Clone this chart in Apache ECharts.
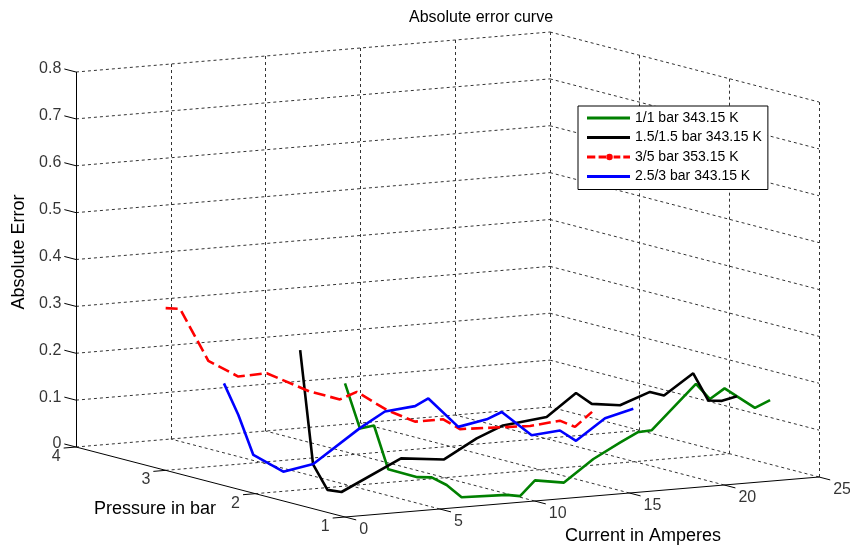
<!DOCTYPE html>
<html>
<head>
<meta charset="utf-8">
<script src="https://cdn.jsdelivr.net/npm/echarts@6/dist/echarts.min.js"></script>
<style>
html, body { margin: 0; padding: 0; background: #fff; }
#chart { width: 850px; height: 546px; }
</style>
</head>
<body>
<div id="chart"></div>
<script>
// series names and the pressure each curve sits at
var seriesNames = ['1/1 bar 343.15 K', '1.5/1.5 bar 343.15 K', '3/5 bar 353.15 K', '2.5/3 bar 343.15 K'];
var seriesPressure = [1, 1.5, 3, 2.5];

// 1/1 bar
var current11 = [0, 0.79, 1.53, 2.28, 3.82, 4.57, 5.36, 6.15, 8.53, 9.23, 10.02, 11.55, 13.1, 14.5, 15.43, 16.18, 18.51, 19.25, 20.02, 21.62, 22.42];
var error11 = [0.285, 0.186, 0.190, 0.094, 0.072, 0.069, 0.050, 0.021, 0.018, 0.013, 0.044, 0.034, 0.079, 0.109, 0.128, 0.130, 0.221, 0.186, 0.206, 0.159, 0.173];
// 1.5/1.5 bar
var current15 = [0, 0.68, 1.44, 2.18, 5.32, 7.59, 9.31, 10.7, 13.0, 14.55, 15.38, 16.87, 18.45, 19.19, 20.73, 21.53, 22.25, 23.04];
var error15 = [0.331, 0.085, 0.028, 0.021, 0.082, 0.072, 0.111, 0.134, 0.144, 0.190, 0.164, 0.156, 0.179, 0.169, 0.211, 0.150, 0.147, 0.154];
// 3/5 bar
var current35 = [0, 0.76, 2.25, 3.83, 5.33, 7.61, 9.19, 10.08, 11.66, 13.15, 14.64, 15.52, 19.22, 20.79, 21.59, 22.49];
var error35 = [0.346, 0.342, 0.226, 0.187, 0.189, 0.142, 0.120, 0.133, 0.089, 0.059, 0.059, 0.035, 0.029, 0.035, 0.019, 0.048];
// 2.5/3 bar
var current253 = [0.71, 1.47, 2.26, 3.84, 5.42, 7.88, 9.2, 10.79, 11.49, 13.07, 14.57, 15.36, 16.94, 18.43, 19.28, 20.81, 22.3];
var error253 = [0.208, 0.138, 0.050, 0.009, 0.020, 0.088, 0.119, 0.125, 0.139, 0.073, 0.084, 0.097, 0.042, 0.047, 0.022, 0.065, 0.080];

// ticks
var currentTicks = [0, 5, 10, 15, 20, 25];
var pressureTicks = [1, 2, 3, 4];
var errorTicks = [0, 0.1, 0.2, 0.3, 0.4, 0.5, 0.6, 0.7, 0.8];
var errorTickLabels = ['0', '0.1', '0.2', '0.3', '0.4', '0.5', '0.6', '0.7', '0.8'];

var FONT = 'Liberation Sans, Arial, Helvetica, sans-serif';

// orthographic view of the 3d box onto the page (current, pressure, error)
var view = { ox: 345, oy: 517, cx: 18.96, cy: -1.6, px: -89.67, py: -23.33, zy: -468.75 };
function proj(c, p, z) {
	return [view.ox + c * view.cx + (p - 1) * view.px,
		view.oy + c * view.cy + (p - 1) * view.py + z * view.zy];
}
var cMax = 25, pMin = 1, pMax = 4, zMax = 0.8;

// dotted grid on walls and floor
var gridSegs = [];
errorTicks.forEach(function(z) {
	if (z > 0) {
		gridSegs.push({ coords: [proj(0, pMax, z), proj(cMax, pMax, z)] });
		gridSegs.push({ coords: [proj(cMax, pMax, z), proj(cMax, pMin, z)] });
	}
});
currentTicks.forEach(function(c) {
	if (c > 0) {
		gridSegs.push({ coords: [proj(c, pMax, 0), proj(c, pMax, zMax)] });
		gridSegs.push({ coords: [proj(c, pMin, 0), proj(c, pMax, 0)] });
	}
});
pressureTicks.forEach(function(p) {
	if (p < pMax) gridSegs.push({ coords: [proj(cMax, p, 0), proj(cMax, p, zMax)] });
	if (p > pMin) gridSegs.push({ coords: [proj(0, p, 0), proj(cMax, p, 0)] });
});

// axis lines and ticks
var axisSegs = [
	{ coords: [proj(0, pMax, 0), proj(0, pMax, zMax)] },
	{ coords: [proj(0, pMax, 0), proj(0, pMin, 0)] },
	{ coords: [proj(0, pMin, 0), proj(cMax, pMin, 0)] }
];
var zLabels = [], pLabels = [], cLabels = [];
errorTicks.forEach(function(z, i) {
	var e = proj(0, pMax + 0.13, z);
	axisSegs.push({ coords: [proj(0, pMax, z), e] });
	zLabels.push([e[0] - 3, e[1], errorTickLabels[i]]);
});
pressureTicks.forEach(function(p) {
	var e = proj(-0.65, p, 0);
	axisSegs.push({ coords: [proj(0, p, 0), e] });
	pLabels.push([e[0] - 7.5, e[1] + 8.5, String(p)]);
});
currentTicks.forEach(function(c) {
	var e = proj(c, pMin - 0.125, 0);
	axisSegs.push({ coords: [proj(c, pMin, 0), e] });
	cLabels.push([e[0] + 3, e[1] + 9.5, String(c)]);
});

function curve(cur, err, p) {
	return cur.map(function(c, i) { return proj(c, p, err[i]); });
}

function labelSeries(data, align) {
	return {
		type: 'scatter', silent: true, symbolSize: 0, data: data, z: 5,
		label: {
			show: true, position: [0, 0], align: align, verticalAlign: 'middle',
			color: '#000', fontSize: 16, fontFamily: FONT,
			formatter: function(p) { return p.value[2]; }
		}
	};
}

// legend samples: plain thick line, and dashed line with a dot
var solidIcon = 'path://M0,0h43v2.8h-43z';
var dashDotIcon = 'path://M0,5.6h8.3v2.8h-8.3z M11.6,5.6h8v2.8h-8z M26.6,5.6h6.7v2.8h-6.7z M36.3,5.6h6.7v2.8h-6.7z M19.2,7a3.3,3.3 0 1,0 6.6,0a3.3,3.3 0 1,0 -6.6,0z';

var myChart = echarts.init(document.getElementById('chart'));
var option = {
	animation: false,
	grid: { left: 0, right: 0, top: 0, bottom: 0 },
	xAxis: { type: 'value', min: 0, max: 850, show: false },
	yAxis: { type: 'value', min: 0, max: 546, inverse: true, show: false },
	legend: {
		data: [
			{ name: seriesNames[0], icon: solidIcon },
			{ name: seriesNames[1], icon: solidIcon },
			{ name: seriesNames[2], icon: dashDotIcon },
			{ name: seriesNames[3], icon: solidIcon }
		],
		orient: 'vertical',
		left: 578, top: 106,
		padding: [5, 6, 6, 9],
		itemWidth: 43, itemHeight: 14, itemGap: 5.5,
		backgroundColor: '#fff', borderColor: '#000', borderWidth: 1,
		textStyle: { fontSize: 14, fontFamily: FONT, color: '#000' }
	},
	graphic: [
		{ type: 'text', x: 481, y: 18, style: { text: 'Absolute error curve', font: '16px ' + FONT, fill: '#000', align: 'center', verticalAlign: 'middle' } },
		{ type: 'text', x: 19, y: 252, rotation: Math.PI / 2, style: { text: 'Absolute Error', font: '18px ' + FONT, fill: '#000', align: 'center', verticalAlign: 'middle' } },
		{ type: 'text', x: 155, y: 509, style: { text: 'Pressure in bar', font: '18px ' + FONT, fill: '#000', align: 'center', verticalAlign: 'middle' } },
		{ type: 'text', x: 643, y: 536, style: { text: 'Current in Amperes', font: '18px ' + FONT, fill: '#000', align: 'center', verticalAlign: 'middle' } }
	],
	series: [
		{ type: 'lines', coordinateSystem: 'cartesian2d', silent: true, data: gridSegs, z: 1,
			lineStyle: { color: '#333', width: 1, type: [3, 3], opacity: 1 } },
		{ type: 'lines', coordinateSystem: 'cartesian2d', silent: true, data: axisSegs, z: 2,
			lineStyle: { color: '#000', width: 1, opacity: 1 } },
		labelSeries(zLabels, 'right'),
		labelSeries(pLabels, 'center'),
		labelSeries(cLabels, 'left'),
		{ name: seriesNames[0], type: 'line', data: curve(current11, error11, seriesPressure[0]), symbol: 'none', z: 3,
			lineStyle: { color: '#008000', width: 2.6 }, itemStyle: { color: '#008000' } },
		{ name: seriesNames[1], type: 'line', data: curve(current15, error15, seriesPressure[1]), symbol: 'none', z: 3,
			lineStyle: { color: '#000', width: 2.6 }, itemStyle: { color: '#000' } },
		{ name: seriesNames[2], type: 'line', data: curve(current35, error35, seriesPressure[2]), symbol: 'none', z: 3,
			lineStyle: { color: '#ff0000', width: 2.6, type: [12, 5] }, itemStyle: { color: '#ff0000' } },
		{ name: seriesNames[3], type: 'line', data: curve(current253, error253, seriesPressure[3]), symbol: 'none', z: 3,
			lineStyle: { color: '#0000ff', width: 2.6 }, itemStyle: { color: '#0000ff' } }
	]
};
myChart.setOption(option);
</script>
</body>
</html>
